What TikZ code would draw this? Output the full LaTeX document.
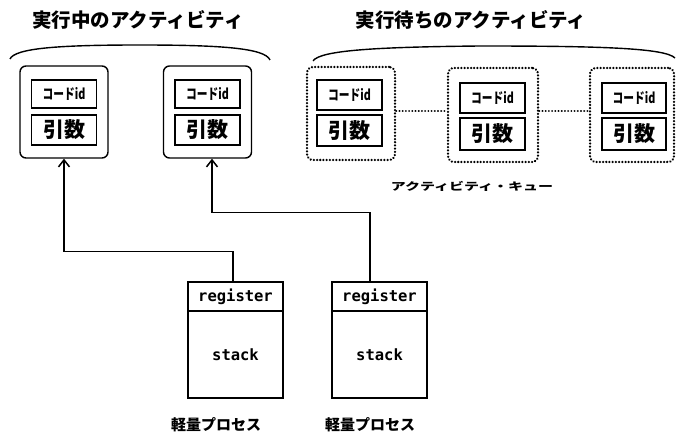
\documentclass[tikz,border=0pt]{standalone}
\usepackage{fontspec}
\setmainfont{Noto Sans CJK JP}
\newfontfamily\jpfont{Noto Sans CJK JP}
\newfontfamily\monofont{DejaVu Sans Mono}
\usetikzlibrary{arrows.meta}
\tikzset{
  stroke/.style={line width=1.4pt},
  actbox/.style={stroke, draw, rounded corners=6pt, minimum width=88pt, minimum height=92pt, inner sep=0pt},
  waitbox/.style={actbox, draw, line width=2.5pt, line cap=round, dash pattern=on 0.01pt off 3.2pt},
  field/.style={draw, line width=1.3pt, minimum width=65pt, inner sep=0pt},
  idtext/.style={font=\jpfont\bfseries\fontsize{14.5pt}{14.5pt}\selectfont},
  argtext/.style={font=\jpfont\bfseries\fontsize{21pt}{21pt}\selectfont},
  regpart/.style={draw, stroke, minimum width=95pt, inner sep=0pt, font=\monofont\bfseries\fontsize{15.5pt}{15.5pt}\selectfont},
  title/.style={font=\jpfont\bfseries\fontsize{19.5pt}{19.5pt}\selectfont},
  caption/.style={font=\jpfont\bfseries\fontsize{15pt}{15pt}\selectfont},
  link/.style={stroke, -{Straight Barb[length=7pt,width=11pt,line width=1.5pt]}},
  queue/.style={line width=2.2pt, line cap=round, dash pattern=on 0.01pt off 3.2pt}
}
\newcommand{\codeid}{\scalebox{0.74}[1]{コードid}}
\begin{document}
\begin{tikzpicture}[x=1pt,y=-1pt]
\useasboundingbox (0,0) rectangle (676,435);

% headings
\node[title] (t1) at (138,20) {実行中のアクティビティ};
\node[title] (t2) at (471,20) {実行待ちのアクティビティ};

% braces over the two groups
\draw[stroke] (10,59) .. controls (15,48) and (60,45) .. (140,45)
  .. controls (220,45) and (265,48) .. (270,60);
\draw[stroke] (313,61) .. controls (320,50) and (380,47) .. (480,46)
  .. controls (600,46) and (665,48) .. (675,58);

% running activities
\node[actbox] (r1) at (64,112) {};
\node[field, minimum height=28pt, idtext] (r1id) at (64,94) {\codeid};
\node[field, minimum height=30pt, argtext] (r1arg) at (64,130) {引数};

\node[actbox] (r2) at (207.5,112) {};
\node[field, minimum height=28pt, idtext] (r2id) at (207.5,94) {\codeid};
\node[field, minimum height=30pt, argtext] (r2arg) at (207.5,130) {引数};

% waiting activities
\node[waitbox, minimum height=93pt] (w1) at (351,113.5) {};
\node[field, minimum height=30pt, idtext] (w1id) at (349.5,95) {\codeid};
\node[field, minimum height=31pt, argtext] (w1arg) at (349.5,130.5) {引数};

\node[waitbox, minimum width=90pt, minimum height=94pt] (w2) at (493,115) {};
\node[field, minimum height=30pt, idtext] (w2id) at (492.5,98) {\codeid};
\node[field, minimum height=32pt, argtext] (w2arg) at (492.5,134) {引数};

\node[waitbox, minimum width=84pt, minimum height=94pt] (w3) at (632,115) {};
\node[field, minimum width=64pt, minimum height=30pt, idtext] (w3id) at (634,98) {\codeid};
\node[field, minimum width=64pt, minimum height=32pt, argtext] (w3arg) at (634,134) {引数};

% queue links
\coordinate (qy) at (0,111);
\draw[queue] (w1.east |- qy) -- (w2.west |- qy);
\draw[queue] (w2.east |- qy) -- (w3.west |- qy);
\node[font=\jpfont\bfseries\fontsize{15pt}{15pt}\selectfont] (ql) at (472,186)
  {\scalebox{1}[0.7]{アクティビティ・キュー}};

% lightweight processes
\node[regpart, minimum height=29pt] (reg1) at (235.5,296.5) {register};
\node[regpart, minimum height=87pt] (stk1) at (235.5,354.5) {stack};
\node[regpart, minimum height=29pt] (reg2) at (379.5,296.5) {register};
\node[regpart, minimum height=87pt] (stk2) at (379.5,354.5) {stack};

\node[caption] (p1) at (216,425) {軽量プロセス};
\node[caption] (p2) at (370,425) {軽量プロセス};

% process -> activity
\draw[link] ([xshift=-2.5pt]reg1.north) -- ++(0,-30) -| (r1.south);
\draw[link] ([xshift=-9.5pt]reg2.north) -- ++(0,-69) -| ([xshift=4.5pt]r2.south);
\end{tikzpicture}
\end{document}
